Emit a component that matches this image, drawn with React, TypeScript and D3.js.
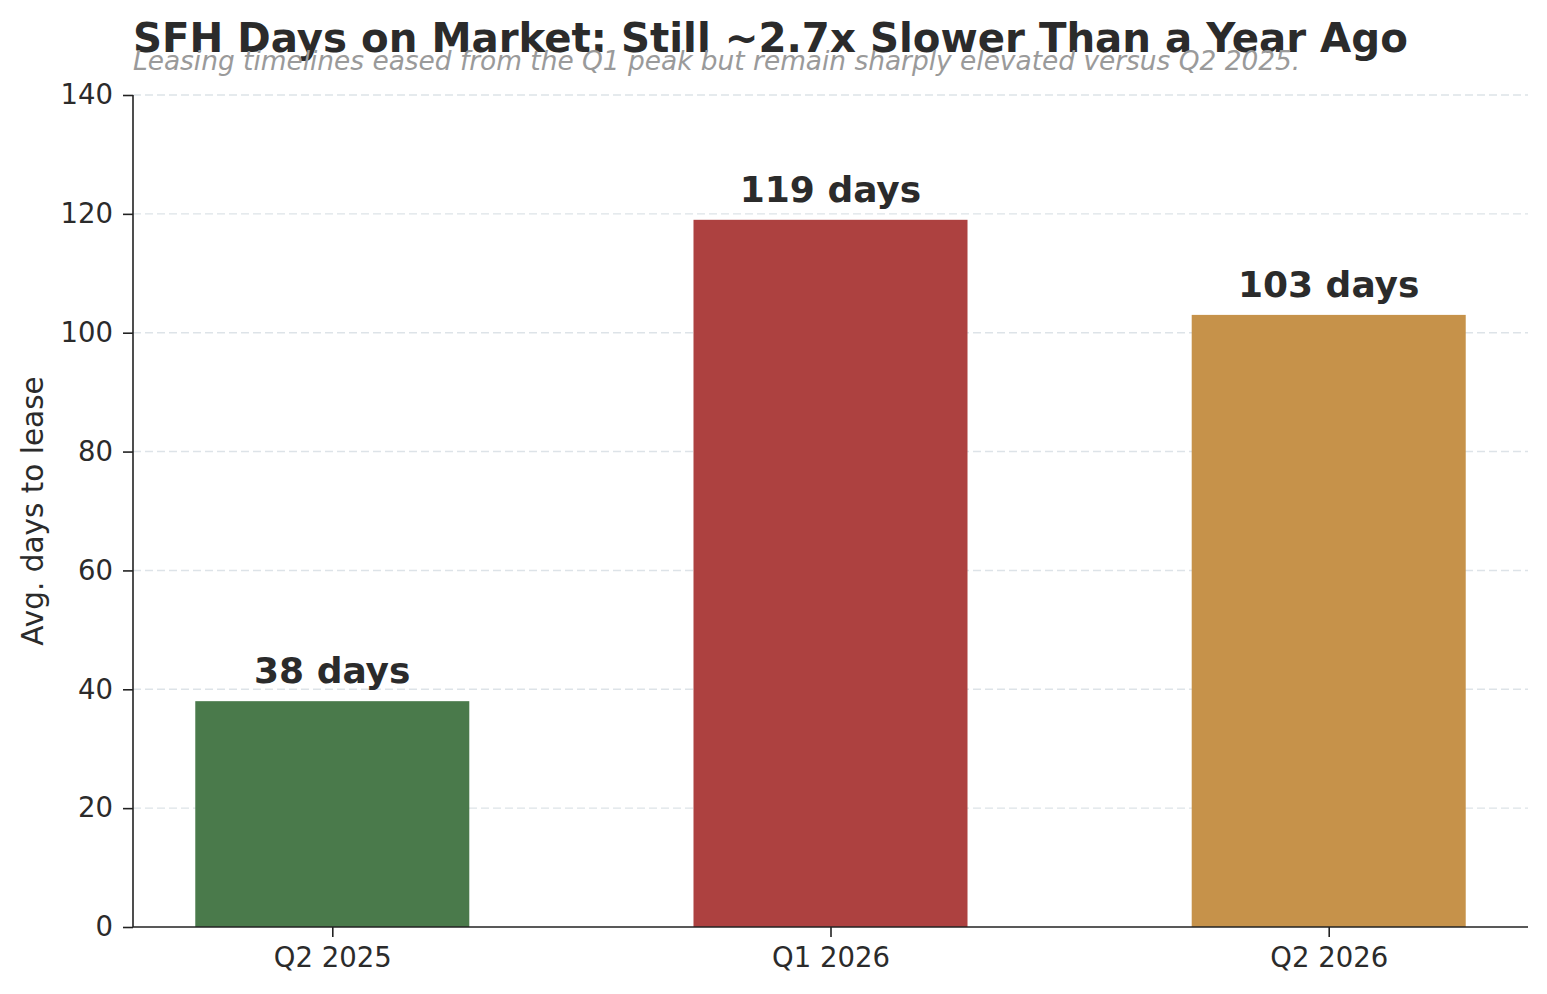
import React, { useRef, useEffect } from "react";
import { select, scaleLinear, axisLeft, axisBottom } from "d3";

const categories = ["Q2 2025", "Q1 2026", "Q2 2026"];
const values = [38, 119, 103];
const barColors = ["#4a7a4b", "#ad4140", "#c6924a"];
const yTicks = [0, 20, 40, 60, 80, 100, 120, 140];

const W = 1547;
const H = 994;
const margin = { left: 133, right: 19, top: 95, bottom: 67 };
const font = "'DejaVu Sans', sans-serif";

function App() {
  const svgRef = useRef<SVGSVGElement>(null);

  useEffect(() => {
    document.body.style.margin = "0";
    const svg = select(svgRef.current);
    svg.selectAll("*").remove();

    const x = scaleLinear().domain([-0.4, 2.4]).range([margin.left, W - margin.right]);
    const y = scaleLinear().domain([0, 140]).range([H - margin.bottom, margin.top]);
    const barW = x(0.55) - x(0);

    // grid
    svg
      .append("g")
      .selectAll("line")
      .data(yTicks.filter((t) => t > 0))
      .join("line")
      .attr("x1", margin.left)
      .attr("x2", W - margin.right)
      .attr("y1", (d) => y(d))
      .attr("y2", (d) => y(d))
      .attr("stroke", "#dde3e8")
      .attr("stroke-width", 1.4)
      .attr("stroke-dasharray", "8,4");

    // bars
    svg
      .append("g")
      .selectAll("rect")
      .data(values)
      .join("rect")
      .attr("x", (d, i) => x(i) - barW / 2)
      .attr("y", (d) => y(d))
      .attr("width", barW)
      .attr("height", (d) => y(0) - y(d))
      .attr("fill", (d, i) => barColors[i]);

    // value labels
    svg
      .append("g")
      .selectAll("text")
      .data(values)
      .join("text")
      .attr("x", (d, i) => x(i))
      .attr("y", (d) => y(d) - 18)
      .attr("text-anchor", "middle")
      .attr("font-family", font)
      .attr("font-weight", "bold")
      .attr("font-size", 36)
      .attr("fill", "#2b2b2b")
      .text((d) => `${d} days`);

    // axes
    const yAxis = axisLeft(y).tickValues(yTicks).tickSize(10).tickPadding(10);
    const gy = svg
      .append("g")
      .attr("transform", `translate(${margin.left},0)`)
      .call(yAxis);
    const xAxis = axisBottom(x)
      .tickValues([0, 1, 2])
      .tickFormat((d: any) => categories[d])
      .tickSize(10)
      .tickPadding(10);
    const gx = svg
      .append("g")
      .attr("transform", `translate(0,${y(0)})`)
      .call(xAxis);

    [gx, gy].forEach((g) => {
      g.select(".domain").attr("stroke", "#222").attr("stroke-width", 1.6);
      g.selectAll(".tick line").attr("stroke", "#222").attr("stroke-width", 1.6);
      g.selectAll(".tick text")
        .attr("font-family", font)
        .attr("font-size", 27.5)
        .attr("fill", "#2b2b2b");
    });
    gx.select(".domain").attr("d", `M${margin.left},0H${W - margin.right}`);
    gy.select(".domain").attr("d", `M0,${y(0)}V${margin.top}`);

    // y label
    svg
      .append("text")
      .attr("transform", `translate(43,${(y(0) + y(140)) / 2}) rotate(-90)`)
      .attr("text-anchor", "middle")
      .attr("font-family", font)
      .attr("font-size", 29.5)
      .attr("fill", "#2b2b2b")
      .text("Avg. days to lease");

    // title & subtitle
    svg
      .append("text")
      .attr("x", margin.left)
      .attr("y", 52)
      .attr("font-family", font)
      .attr("font-weight", "bold")
      .attr("font-size", 40.3)
      .attr("fill", "#2b2b2b")
      .text("SFH Days on Market: Still ~2.7x Slower Than a Year Ago");
    svg
      .append("text")
      .attr("x", margin.left)
      .attr("y", 70)
      .attr("font-family", font)
      .attr("font-style", "italic")
      .attr("font-size", 26.4)
      .attr("fill", "#9a9a9a")
      .text("Leasing timelines eased from the Q1 peak but remain sharply elevated versus Q2 2025.");
  }, []);

  return (
    <div className="App">
      <svg ref={svgRef} width={W} height={H} style={{ display: "block", background: "#fff" }} />
    </div>
  );
}

export default App;
